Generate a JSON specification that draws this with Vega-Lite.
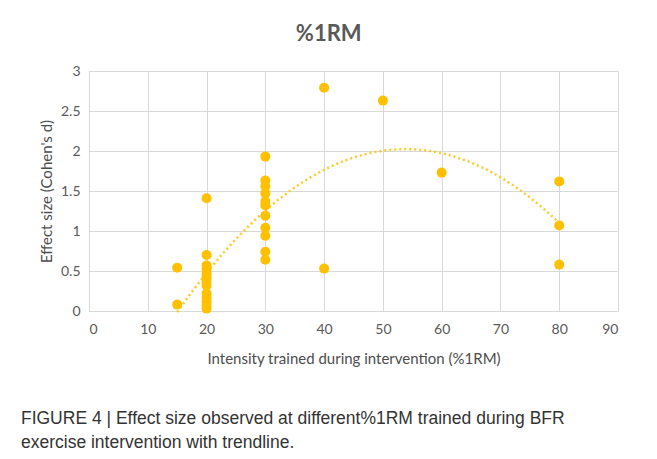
{
  "$schema": "https://vega.github.io/schema/vega-lite/v6.json",
  "background": "white",
  "padding": {"left": 20, "top": 22, "right": 10, "bottom": 10},
  "title": {
    "text": ["FIGURE 4 | Effect size observed at different%1RM trained during BFR", "exercise intervention with trendline."],
    "orient": "bottom", "anchor": "start", "frame": "bounds",
    "font": "Liberation Sans", "fontSize": 17.5, "fontWeight": "normal", "color": "#333333",
    "offset": 43, "lineHeight": 24, "dx": -18
  },
  "vconcat": [
    {
      "width": 529,
      "height": 240,
      "title": {"text": "%1RM", "font": "Lato", "fontSize": 22, "fontWeight": "bold", "color": "#595959", "offset": 18, "anchor": "middle", "frame": "bounds"},
      "data": {
        "values": [
          {"x": 15, "d": 0.54}, {"x": 15, "d": 0.08},
          {"x": 20, "d": 1.41}, {"x": 20, "d": 0.70}, {"x": 20, "d": 0.57}, {"x": 20, "d": 0.52},
          {"x": 20, "d": 0.47}, {"x": 20, "d": 0.42}, {"x": 20, "d": 0.37}, {"x": 20, "d": 0.32},
          {"x": 20, "d": 0.22}, {"x": 20, "d": 0.17}, {"x": 20, "d": 0.12}, {"x": 20, "d": 0.07},
          {"x": 20, "d": 0.03},
          {"x": 30, "d": 1.93}, {"x": 30, "d": 1.63}, {"x": 30, "d": 1.56}, {"x": 30, "d": 1.47},
          {"x": 30, "d": 1.37}, {"x": 30, "d": 1.32}, {"x": 30, "d": 1.19}, {"x": 30, "d": 1.04},
          {"x": 30, "d": 0.94}, {"x": 30, "d": 0.74}, {"x": 30, "d": 0.64},
          {"x": 40, "d": 2.79}, {"x": 40, "d": 0.53},
          {"x": 50, "d": 2.63},
          {"x": 60, "d": 1.73},
          {"x": 80, "d": 1.62}, {"x": 80, "d": 1.07}, {"x": 80, "d": 0.58}
        ]
      },
      "encoding": {
        "x": {
          "field": "x", "type": "quantitative",
          "scale": {"domain": [0, 90], "nice": false},
          "axis": {"values": [0, 10, 20, 30, 40, 50, 60, 70, 80, 90], "title": "Intensity trained during intervention (%1RM)", "labelPadding": 11, "titlePadding": 15}
        },
        "y": {
          "field": "d", "type": "quantitative",
          "scale": {"domain": [0, 3], "nice": false},
          "axis": {"values": [0, 0.5, 1, 1.5, 2, 2.5, 3], "format": "~g", "title": "Effect size (Cohen's d)", "labelPadding": 9, "titlePadding": 6}
        }
      },
      "layer": [
        {
          "transform": [{"regression": "d", "on": "x", "method": "poly", "order": 2}],
          "mark": {"type": "line", "color": "#FFC000", "strokeWidth": 2.5, "strokeDash": [2, 3], "opacity": 0.85}
        },
        {
          "mark": {"type": "circle", "size": 100, "color": "#FFC000", "opacity": 1}
        }
      ]
    }
  ],
  "config": {
    "view": {"stroke": "#d9d9d9", "strokeWidth": 1},
    "axis": {
      "labelFont": "Lato", "labelFontSize": 14, "labelColor": "#595959",
      "titleFont": "Lato", "titleFontSize": 15, "titleFontWeight": "normal", "titleColor": "#4d4d4d",
      "grid": true, "gridColor": "#d9d9d9", "gridWidth": 1,
      "domain": true, "domainColor": "#d9d9d9", "domainWidth": 1,
      "ticks": false
    }
  }
}
